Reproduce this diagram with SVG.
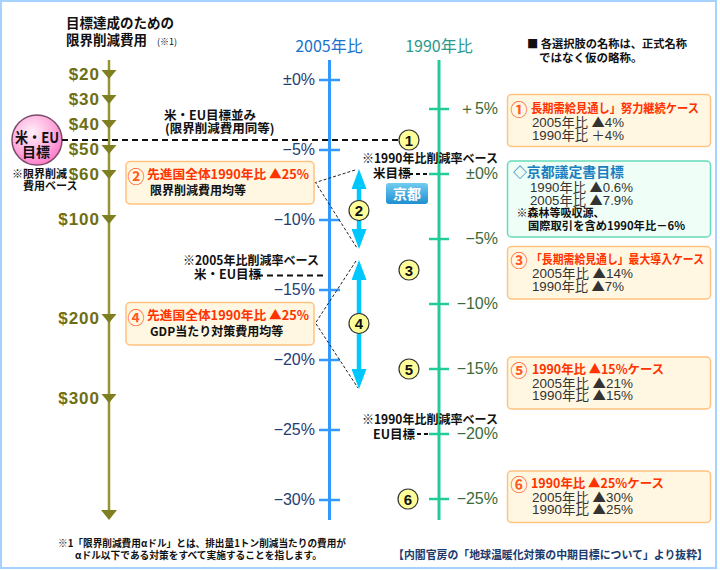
<svg xmlns="http://www.w3.org/2000/svg" width="720" height="570" viewBox="0 0 720 570">
<defs>
<style>
.jp{font-family:"Noto Sans CJK JP","Noto Sans CJK SC",sans-serif}
.b{font-weight:bold}
.dol{font-family:"Liberation Sans",Arial,sans-serif;font-weight:bold;font-size:17px;fill:#6e6e14;letter-spacing:1px;text-anchor:end}
.p05{font-family:"Liberation Sans",Arial,sans-serif;font-size:16px;fill:#1f3d73;text-anchor:end}
.p90{font-family:"Liberation Sans",Arial,sans-serif;font-size:16px;fill:#3a6a3a;text-anchor:end}
.box{fill:#fff7e2;stroke:#ffc27f;stroke-width:1.5}
.kbox{fill:#effff8;stroke:#66dcb8;stroke-width:1.5}
.ttl{font-size:12.5px;font-weight:bold;fill:#ff3300}
.num{font-size:17px;font-weight:bold;fill:#ff5a1f}
.body{font-family:"Liberation Sans","Noto Sans CJK JP",sans-serif;font-size:13px;fill:#333}
.tri{font-family:"Noto Sans CJK JP",sans-serif}
.mk circle{fill:#ffff99;stroke:#333;stroke-width:1.2}
.mk text{font-family:"Liberation Sans",Arial,sans-serif;font-weight:bold;font-size:15px;fill:#111;text-anchor:middle}
.lbl{font-size:12.5px;font-weight:bold;fill:#111}
.dash{stroke:#111;stroke-width:2;stroke-dasharray:6 4;fill:none}
.thin{stroke:#222;stroke-width:1;stroke-dasharray:3 2;fill:none}
.t05{stroke:#3399ff;stroke-width:2.5}
.t90{stroke:#22cc99;stroke-width:2.5}
</style>
<radialGradient id="pink" cx="0.4" cy="0.35" r="0.7">
<stop offset="0" stop-color="#fff0fa"/>
<stop offset="0.55" stop-color="#ffb3e0"/>
<stop offset="1" stop-color="#ff77c8"/>
</radialGradient>
<linearGradient id="kyoto" x1="0" y1="0" x2="0" y2="1">
<stop offset="0" stop-color="#72ccf2"/>
<stop offset="1" stop-color="#1f8fd0"/>
</linearGradient>
<marker id="ah" markerUnits="userSpaceOnUse" markerWidth="20" markerHeight="15" refX="0" refY="7.5" orient="auto-start-reverse" viewBox="0 0 20 15"><path d="M0,0 L20,7.5 L0,15 z" fill="#00c8ff"/></marker>
<polygon id="otri" points="-7.5,-4 7.5,-4 0,5" fill="#7f7f22"/>
</defs>
<rect x="0" y="0" width="720" height="570" fill="#fff"/>
<rect x="1" y="1" width="715" height="567" fill="none" stroke="#a6d2ff" stroke-width="2"/>

<!-- title -->
<g id="title" class="jp b" fill="#111">
<text x="66" y="28" font-size="13.5">目標達成のための</text>
<text x="66" y="45" font-size="13.5">限界削減費用</text>
<text x="157" y="45" font-size="9" font-weight="normal">(※1)</text>
</g>

<!-- cost axis -->
<g id="cost-axis">
<line x1="109" y1="60" x2="109" y2="512" stroke="#949433" stroke-width="2.5"/>
<polygon points="101,510 117,510 109,520" fill="#7f7f22"/>
<use href="#otri" x="109" y="74"/><use href="#otri" x="109" y="99"/><use href="#otri" x="109" y="124"/><use href="#otri" x="109" y="149"/><use href="#otri" x="109" y="174"/><use href="#otri" x="109" y="219"/><use href="#otri" x="109" y="318"/><use href="#otri" x="109" y="398"/>
<text class="dol" x="100" y="80">$20</text>
<text class="dol" x="100" y="105">$30</text>
<text class="dol" x="100" y="130">$40</text>
<text class="dol" x="100" y="155">$50</text>
<text class="dol" x="100" y="180">$60</text>
<text class="dol" x="100" y="225">$100</text>
<text class="dol" x="100" y="324">$200</text>
<text class="dol" x="100" y="404">$300</text>
</g>

<!-- US/EU target circle -->
<g id="useu-target">
<circle cx="37" cy="140" r="25" fill="url(#pink)" stroke="#7a4a66" stroke-width="1.5"/>
<text class="jp b" x="15" y="143" font-size="15" fill="#111" textLength="44" lengthAdjust="spacingAndGlyphs">米・EU</text>
<text class="jp b" x="36" y="157" font-size="14" text-anchor="middle" fill="#111">目標</text>
<text class="jp b" x="12" y="178" font-size="11" fill="#111">※限界削減</text>
<text class="jp b" x="23" y="189.5" font-size="11" fill="#111">費用ベース</text>
</g>

<!-- 2005 axis -->
<g id="axis-2005">
<text class="jp" x="329" y="52" font-size="16" text-anchor="middle" fill="#1a73c8">2005年比</text>
<line x1="329.5" y1="60" x2="329.5" y2="520" stroke="#3399ff" stroke-width="3"/>
<line class="t05" x1="319" y1="80" x2="340" y2="80"/>
<line class="t05" x1="319" y1="150" x2="340" y2="150"/>
<line class="t05" x1="319" y1="220" x2="340" y2="220"/>
<line class="t05" x1="319" y1="290" x2="340" y2="290"/>
<line class="t05" x1="319" y1="360" x2="340" y2="360"/>
<line class="t05" x1="319" y1="430" x2="340" y2="430"/>
<line class="t05" x1="319" y1="500" x2="340" y2="500"/>
<text class="p05" x="315" y="85">±0%</text>
<text class="p05" x="315" y="155">−5%</text>
<text class="p05" x="315" y="225">−10%</text>
<text class="p05" x="315" y="295">−15%</text>
<text class="p05" x="315" y="365">−20%</text>
<text class="p05" x="315" y="435">−25%</text>
<text class="p05" x="315" y="505">−30%</text>
</g>

<!-- 1990 axis -->
<g id="axis-1990">
<text class="jp" x="439" y="52" font-size="16" text-anchor="middle" fill="#2a9a8a">1990年比</text>
<line x1="439" y1="60" x2="439" y2="520" stroke="#22cc99" stroke-width="3"/>
<line class="t90" x1="429" y1="109" x2="449" y2="109"/>
<line class="t90" x1="429" y1="174" x2="449" y2="174"/>
<line class="t90" x1="429" y1="239" x2="449" y2="239"/>
<line class="t90" x1="429" y1="304" x2="449" y2="304"/>
<line class="t90" x1="429" y1="369" x2="449" y2="369"/>
<line class="t90" x1="429" y1="434" x2="449" y2="434"/>
<line class="t90" x1="429" y1="499" x2="449" y2="499"/>
<text class="p90" x="498" y="114">＋5%</text>
<text class="p90" x="498" y="179">±0%</text>
<text class="p90" x="498" y="244">−5%</text>
<text class="p90" x="498" y="309">−10%</text>
<text class="p90" x="498" y="374">−15%</text>
<text class="p90" x="498" y="439">−20%</text>
<text class="p90" x="498" y="504">−25%</text>
</g>

<!-- note -->
<g id="note" class="jp b" fill="#111" font-size="11.5">
<text x="527" y="48" textLength="160" lengthAdjust="spacingAndGlyphs">■ 各選択肢の名称は、正式名称</text>
<text x="539" y="62">ではなく仮の略称。</text>
</g>

<!-- reference labels -->
<g id="labels" class="jp">
<text class="lbl" x="164" y="120" font-size="12">米・EU目標並み</text>
<text class="lbl" x="165" y="133" font-size="12">(限界削減費用同等)</text>
<text class="lbl" x="362" y="163" textLength="136" lengthAdjust="spacingAndGlyphs">※1990年比削減率ベース</text>
<text class="lbl" x="373" y="178" font-size="12">米目標</text>
<text class="lbl" x="183" y="265" textLength="136" lengthAdjust="spacingAndGlyphs">※2005年比削減率ベース</text>
<text class="lbl" x="194" y="279" font-size="12">米・EU目標</text>
<text class="lbl" x="362" y="424" textLength="136" lengthAdjust="spacingAndGlyphs">※1990年比削減率ベース</text>
<text class="lbl" x="373" y="439" font-size="12">EU目標</text>
</g>

<!-- Kyoto badge -->
<g id="kyoto-badge">
<rect x="386" y="183" width="42" height="21" rx="3" fill="url(#kyoto)"/>
<text class="jp b" x="407" y="199" font-size="14" text-anchor="middle" fill="#fff">京都</text>
</g>

<!-- connectors -->
<g id="connectors">
<line class="dash" x1="62" y1="140" x2="399" y2="140"/>
<line x1="409" y1="174" x2="429" y2="174" stroke="#111" stroke-width="2" stroke-dasharray="4 3"/>
<line x1="257" y1="275.5" x2="323" y2="275.5" stroke="#111" stroke-width="2" stroke-dasharray="6 4"/>
<line x1="417" y1="434" x2="429" y2="434" stroke="#111" stroke-width="2" stroke-dasharray="4 3"/>
<polyline class="thin" points="355,170 315.5,182.5 357,248"/>
<polyline class="thin" points="356,261 315.5,323 358,388"/>
<line x1="359" y1="189" x2="359" y2="229" stroke="#00c8ff" stroke-width="4.5" marker-start="url(#ah)" marker-end="url(#ah)"/>
<line x1="359" y1="280" x2="359" y2="369" stroke="#00c8ff" stroke-width="4.5" marker-start="url(#ah)" marker-end="url(#ah)"/>
</g>

<!-- markers -->
<g id="m1" class="mk"><circle cx="409" cy="140" r="10"/><text x="409" y="145.5">1</text></g>
<g id="m2" class="mk"><circle cx="359" cy="210.5" r="10"/><text x="359" y="216">2</text></g>
<g id="m3" class="mk"><circle cx="409" cy="270" r="10"/><text x="409" y="275.5">3</text></g>
<g id="m4" class="mk"><circle cx="359" cy="323.5" r="10"/><text x="359" y="329">4</text></g>
<g id="m5" class="mk"><circle cx="409" cy="369" r="10"/><text x="409" y="374.5">5</text></g>
<g id="m6" class="mk"><circle cx="408" cy="499" r="10"/><text x="408" y="504.5">6</text></g>

<!-- left boxes -->
<g id="box2" class="jp">
<rect class="box" x="126" y="161.5" width="188" height="42.5" rx="4"/>
<text class="num" x="127.5" y="183">②</text>
<text class="ttl" x="147" y="179" font-size="13" textLength="162" lengthAdjust="spacingAndGlyphs">先進国全体1990年比 ▲25%</text>
<text x="150" y="195" font-size="12" font-weight="bold" fill="#111">限界削減費用均等</text>
</g>
<g id="box4" class="jp">
<rect class="box" x="126" y="302.5" width="188" height="42.5" rx="4"/>
<text class="num" x="127.5" y="324">④</text>
<text class="ttl" x="147" y="320" font-size="13" textLength="162" lengthAdjust="spacingAndGlyphs">先進国全体1990年比 ▲25%</text>
<text x="150" y="336" font-size="12" font-weight="bold" fill="#111">GDP当たり対策費用均等</text>
</g>

<!-- right boxes -->
<g id="box1" class="jp">
<rect class="box" x="507.5" y="94.5" width="203" height="52" rx="4"/>
<text class="num" x="510.5" y="116">①</text>
<text class="ttl" x="531" y="113" textLength="168" lengthAdjust="spacingAndGlyphs">長期需給見通し」努力継続ケース</text>
<text class="body" x="532" y="127" textLength="92" lengthAdjust="spacingAndGlyphs">2005年比 <tspan class="tri">▲</tspan>4%</text>
<text class="body" x="532" y="140" textLength="92" lengthAdjust="spacingAndGlyphs">1990年比 <tspan class="tri">＋</tspan>4%</text>
</g>
<g id="box-kyoto" class="jp">
<rect class="kbox" x="507.5" y="161" width="203" height="76" rx="4"/>
<text x="513" y="177" font-size="14" font-weight="bold" fill="#1a7fc0" textLength="111" lengthAdjust="spacingAndGlyphs">◇京都議定書目標</text>
<text class="body" x="530" y="192" textLength="103" lengthAdjust="spacingAndGlyphs">1990年比 <tspan class="tri">▲</tspan>0.6%</text>
<text class="body" x="530" y="204.5" textLength="103" lengthAdjust="spacingAndGlyphs">2005年比 <tspan class="tri">▲</tspan>7.9%</text>
<text x="516.5" y="217" font-size="11" font-weight="bold" fill="#111">※森林等吸収源、</text>
<text x="528" y="230" font-size="11.5" font-weight="bold" fill="#111" textLength="157" lengthAdjust="spacingAndGlyphs">国際取引を含め1990年比－6%</text>
</g>
<g id="box3" class="jp">
<rect class="box" x="507.5" y="246.5" width="203" height="52.5" rx="4"/>
<text class="num" x="510.5" y="267">③</text>
<text class="ttl" x="531" y="263.5" textLength="173" lengthAdjust="spacingAndGlyphs">「長期需給見通し」最大導入ケース</text>
<text class="body" x="532" y="278" textLength="101" lengthAdjust="spacingAndGlyphs">2005年比 <tspan class="tri">▲</tspan>14%</text>
<text class="body" x="532" y="291" textLength="92" lengthAdjust="spacingAndGlyphs">1990年比 <tspan class="tri">▲</tspan>7%</text>
</g>
<g id="box5" class="jp">
<rect class="box" x="507.5" y="357" width="203" height="52" rx="4"/>
<text class="num" x="510.5" y="377">⑤</text>
<text class="ttl" x="532" y="373.5" textLength="132" lengthAdjust="spacingAndGlyphs">1990年比 ▲15%ケース</text>
<text class="body" x="532" y="387.5" textLength="101" lengthAdjust="spacingAndGlyphs">2005年比 <tspan class="tri">▲</tspan>21%</text>
<text class="body" x="532" y="400" textLength="101" lengthAdjust="spacingAndGlyphs">1990年比 <tspan class="tri">▲</tspan>15%</text>
</g>
<g id="box6" class="jp">
<rect class="box" x="507.5" y="471" width="203" height="51.5" rx="4"/>
<text class="num" x="510.5" y="491">⑥</text>
<text class="ttl" x="531" y="487.5" textLength="133" lengthAdjust="spacingAndGlyphs">1990年比 ▲25%ケース</text>
<text class="body" x="532" y="502" textLength="101" lengthAdjust="spacingAndGlyphs">2005年比 <tspan class="tri">▲</tspan>30%</text>
<text class="body" x="532" y="514" textLength="101" lengthAdjust="spacingAndGlyphs">1990年比 <tspan class="tri">▲</tspan>25%</text>
</g>

<!-- footnotes -->
<g id="footnote" class="jp b" fill="#111" font-size="10">
<text x="58" y="547" textLength="288" lengthAdjust="spacingAndGlyphs">※1「限界削減費用αドル」とは、排出量1トン削減当たりの費用が</text>
<text x="75" y="558.5" textLength="247" lengthAdjust="spacingAndGlyphs">αドル以下である対策をすべて実施することを指します。</text>
</g>
<g id="source" class="jp b">
<text x="393" y="558.5" font-size="11.5" fill="#1a3a6e" textLength="315" lengthAdjust="spacingAndGlyphs">【内閣官房の「地球温暖化対策の中期目標について」より抜粋】</text>
</g>
</svg>
